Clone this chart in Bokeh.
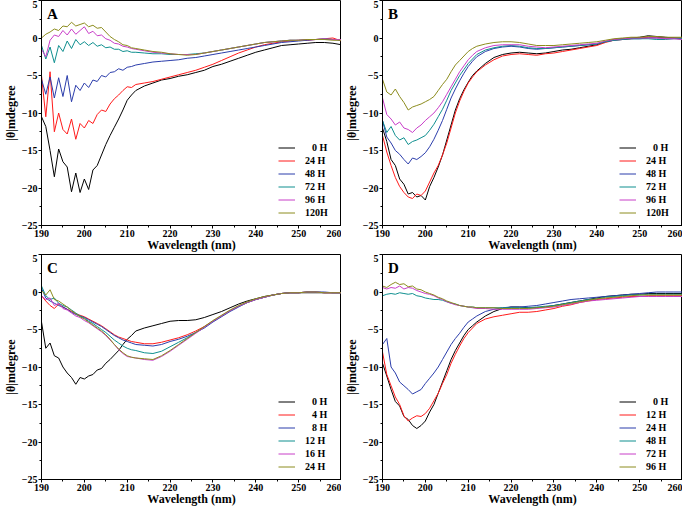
from bokeh.plotting import figure
from bokeh.layouts import gridplot
from bokeh.models import Range1d, SingleIntervalTicker, Label
from bokeh.embed import file_html
from bokeh.resources import INLINE

# wavelength grid (nm)
WL = list(range(190, 212)) + list(range(212, 262, 2))

COLORS = ["#000000", "#ff1a1a", "#2b3dab", "#0f8f8f", "#c83ec8", "#8c8c1e"]

# ---------------- Panel A ----------------
A_labels = ["\u2007\u20090 H", "24 H", "48 H", "72 H", "96 H", "120H"]
A0 = [-10.5, -11.8, -15.0, -18.5, -14.8, -16.5, -17.2, -20.5, -18.0, -20.6, -18.8,
      -20.2, -17.6, -17.0, -15.6, -14.2, -13.0, -11.9, -10.8, -9.6, -8.3, -7.6,
      -7.0, -6.4, -6.0, -5.6, -5.4, -5.1, -4.9, -4.6, -4.3, -3.8, -3.5, -3.1, -2.7,
      -2.3, -1.9, -1.6, -1.3, -1.0, -0.9, -0.8, -0.7, -0.6, -0.6, -0.7, -0.9]
A1 = [-5.0, -10.5, -4.5, -12.5, -10.0, -12.2, -12.8, -10.8, -13.5, -11.4, -12.0,
      -11.0, -11.4, -10.2, -9.6, -9.8, -8.8, -8.1, -7.6, -7.0, -6.5, -6.6,
      -6.2, -6.0, -5.8, -5.5, -5.2, -4.9, -4.6, -4.3, -3.9, -3.5, -3.0, -2.5, -2.0,
      -1.6, -1.2, -0.9, -0.7, -0.5, -0.4, -0.3, -0.3, -0.2, -0.1, 0.0, -0.4]
A2 = [-5.5, -7.5, -5.2, -8.0, -5.3, -7.8, -5.0, -8.5, -6.3, -7.0, -6.0,
      -6.6, -5.6, -5.8, -5.0, -5.2, -4.6, -4.5, -4.1, -4.3, -3.9, -3.8,
      -3.6, -3.4, -3.2, -3.1, -3.0, -2.9, -2.7, -2.6, -2.4, -2.2, -2.0, -1.8, -1.6,
      -1.4, -1.2, -1.0, -0.8, -0.6, -0.5, -0.4, -0.3, -0.2, -0.2, -0.2, -0.3]
A3 = [-1.0, -2.8, -1.2, -3.3, -1.0, -1.8, -0.4, -1.4, -0.2, -0.9, -0.5,
      -1.0, -0.6, -1.1, -0.9, -1.3, -1.2, -1.5, -1.5, -1.8, -1.7, -1.9,
      -1.9, -2.0, -2.1, -2.1, -2.2, -2.2, -2.2, -2.1, -2.0, -1.8, -1.6, -1.4, -1.2,
      -1.0, -0.8, -0.6, -0.5, -0.4, -0.3, -0.3, -0.2, -0.2, -0.1, -0.2, -0.2]
A4 = [-1.5, -2.5, -0.3, 0.4, 0.2, 1.0, 0.4, 1.2, 0.5, 1.0, 1.5,
      0.6, 0.9, 0.3, 0.4, -0.1, -0.3, -0.7, -0.8, -1.1, -1.2, -1.4,
      -1.5, -1.7, -1.9, -2.0, -2.1, -2.2, -2.2, -2.2, -2.0, -1.8, -1.6, -1.4, -1.2,
      -1.0, -0.8, -0.6, -0.5, -0.4, -0.3, -0.3, -0.2, -0.2, -0.1, -0.2, -0.2]
A5 = [0.0, 0.5, 0.8, 1.2, 1.0, 1.6, 1.5, 2.1, 1.6, 1.8, 2.0,
      1.5, 1.7, 1.3, 1.4, 0.8, 0.2, -0.2, -0.5, -0.9, -1.0, -1.3,
      -1.4, -1.6, -1.8, -1.9, -2.1, -2.2, -2.3, -2.2, -2.0, -1.8, -1.6, -1.4, -1.2,
      -1.0, -0.8, -0.6, -0.5, -0.4, -0.3, -0.3, -0.2, -0.2, -0.2, -0.3, -0.3]

# ---------------- Panel B ----------------
B_labels = ["\u2007\u20090 H", "24 H", "48 H", "72 H", "96 H", "120H"]
B0 = [-12.0, -13.8, -16.2, -17.0, -18.8, -19.5, -20.8, -20.6, -21.2, -21.0, -21.6,
      -19.8, -18.6, -17.2, -15.6, -13.6, -11.6, -9.6, -8.1, -6.9, -5.9, -5.0,
      -4.4, -3.4, -2.6, -2.2, -2.0, -1.9, -2.0, -2.1, -2.0, -1.8, -1.6, -1.5, -1.3,
      -1.1, -0.9, -0.5, -0.2, -0.1, 0.0, 0.1, 0.3, 0.2, 0.1, 0.0, 0.0]
B1 = [-13.0, -15.2, -17.0, -18.6, -19.8, -20.6, -21.2, -21.4, -20.8, -21.0, -20.4,
      -19.2, -18.0, -17.0, -15.6, -14.0, -12.0, -10.0, -8.4, -7.1, -6.0, -5.2,
      -4.5, -3.6, -2.9, -2.4, -2.2, -2.1, -2.2, -2.3, -2.1, -2.0, -1.8, -1.6, -1.4,
      -1.2, -1.0, -0.6, -0.3, -0.2, -0.1, 0.0, 0.1, 0.1, 0.0, 0.0, -0.2]
B2 = [-11.0, -13.2, -14.0, -15.0, -15.5, -16.2, -16.8, -16.0, -16.2, -15.8, -15.3,
      -14.5, -13.5, -12.3, -11.0, -9.5, -8.0, -6.8, -5.7, -4.7, -3.8, -3.1,
      -2.5, -1.8, -1.4, -1.2, -1.1, -1.2, -1.4, -1.5, -1.4, -1.3, -1.2, -1.1, -1.0,
      -0.9, -0.8, -0.5, -0.3, -0.2, -0.1, -0.1, 0.0, 0.0, 0.0, 0.0, -0.1]
B3 = [-11.0, -12.6, -11.8, -13.0, -13.6, -13.3, -14.2, -13.8, -13.6, -13.3, -13.0,
      -12.3, -11.5, -10.5, -9.5, -8.3, -7.0, -6.0, -5.0, -4.2, -3.4, -2.8,
      -2.2, -1.6, -1.3, -1.1, -1.0, -1.1, -1.3, -1.4, -1.4, -1.3, -1.2, -1.1, -1.0,
      -0.9, -0.8, -0.5, -0.3, -0.2, -0.1, -0.1, -0.1, -0.2, -0.2, -0.1, -0.1]
B4 = [-8.0, -10.2, -10.8, -11.6, -11.2, -12.0, -12.2, -12.6, -12.0, -11.6, -11.0,
      -10.5, -10.0, -9.3, -8.5, -7.5, -6.5, -5.5, -4.5, -3.7, -2.9, -2.3,
      -1.8, -1.3, -1.0, -0.9, -0.9, -0.9, -1.1, -1.2, -1.3, -1.2, -1.1, -1.0, -0.9,
      -0.8, -0.7, -0.4, -0.2, -0.1, 0.0, 0.0, 0.0, 0.0, -0.1, -0.1, -0.2]
B5 = [-5.5, -7.2, -7.6, -6.8, -7.8, -8.6, -9.6, -9.2, -9.0, -8.8, -8.5,
      -8.2, -7.8, -7.0, -6.2, -5.5, -4.5, -3.6, -3.0, -2.4, -1.8, -1.4,
      -1.1, -0.8, -0.6, -0.5, -0.5, -0.6, -0.8, -1.0, -1.0, -1.0, -0.9, -0.8, -0.7,
      -0.6, -0.5, -0.3, -0.1, 0.0, 0.1, 0.1, 0.2, 0.2, 0.1, 0.1, 0.1]

# ---------------- Panel C ----------------
C_labels = ["\u2007\u20090 H", "\u2007\u20094 H", "\u2007\u20098 H", "12 H", "16 H", "24 H"]
C0 = [-4.0, -7.5, -6.8, -8.5, -8.8, -10.0, -10.8, -11.4, -12.3, -11.4, -11.6,
      -11.2, -11.0, -10.4, -10.2, -9.5, -9.0, -8.4, -7.8, -7.0, -6.3, -5.8,
      -5.2, -4.8, -4.5, -4.2, -3.9, -3.8, -3.8, -3.7, -3.4, -3.0, -2.6, -2.1, -1.6,
      -1.2, -0.9, -0.6, -0.4, -0.2, -0.1, -0.1, -0.1, -0.1, -0.1, -0.1, -0.1]
C1 = [-0.5, -1.2, -1.8, -2.2, -1.6, -2.0, -2.3, -2.6, -2.9, -3.1, -3.3,
      -3.6, -3.9, -4.2, -4.5, -4.9, -5.3, -5.7, -6.0, -6.2, -6.4, -6.6,
      -6.7, -6.9, -6.9, -6.7, -6.4, -6.1, -5.7, -5.2, -4.6, -3.9, -3.2, -2.5, -1.9,
      -1.4, -1.0, -0.7, -0.4, -0.2, -0.1, -0.1, 0.0, 0.0, -0.1, -0.1, -0.1]
C2 = [0.5, -0.8, -1.2, -1.5, -1.8, -2.0, -2.3, -2.7, -3.0, -3.2, -3.4,
      -3.7, -4.0, -4.3, -4.6, -5.0, -5.4, -5.8, -6.1, -6.4, -6.6, -6.8,
      -7.0, -7.1, -7.2, -7.0, -6.6, -6.3, -5.9, -5.4, -4.8, -4.0, -3.3, -2.6, -2.0,
      -1.4, -1.0, -0.7, -0.4, -0.2, -0.1, -0.1, 0.0, 0.0, 0.0, -0.1, -0.1]
C3 = [0.8, -0.5, -1.0, -0.8, -1.5, -1.8, -2.0, -2.4, -2.8, -3.2, -3.5,
      -3.9, -4.2, -4.6, -5.0, -5.4, -5.9, -6.4, -6.8, -7.2, -7.5, -7.7,
      -7.8, -8.1, -8.2, -7.9, -7.3, -6.7, -6.1, -5.4, -4.7, -3.9, -3.2, -2.5, -1.9,
      -1.4, -1.0, -0.7, -0.4, -0.2, -0.1, -0.1, 0.0, 0.0, -0.1, -0.1, -0.1]
C4 = [-0.5, -1.0, -0.8, -1.8, -1.5, -2.2, -2.4, -2.8, -3.2, -3.4, -3.8,
      -4.1, -4.5, -4.9, -5.3, -5.8, -6.4, -7.0, -7.7, -8.2, -8.6, -8.7,
      -8.8, -9.0, -9.1, -8.6, -7.9, -7.1, -6.3, -5.5, -4.7, -3.9, -3.2, -2.5, -1.9,
      -1.4, -1.0, -0.7, -0.4, -0.2, -0.1, -0.1, 0.0, 0.0, -0.1, -0.1, -0.1]
C5 = [0.2, -0.4, 0.3, -1.0, -1.2, -1.6, -2.0, -2.5, -2.9, -3.3, -3.6,
      -4.0, -4.4, -4.8, -5.2, -5.7, -6.3, -7.0, -7.6, -8.1, -8.5, -8.7,
      -8.8, -8.9, -9.0, -8.5, -7.8, -7.0, -6.2, -5.4, -4.6, -3.8, -3.1, -2.4, -1.8,
      -1.3, -0.9, -0.6, -0.4, -0.2, -0.1, -0.1, 0.0, 0.0, -0.1, -0.1, -0.1]

# ---------------- Panel D ----------------
D_labels = ["\u2007\u20090 H", "12 H", "24 H", "48 H", "72 H", "96 H"]
D0 = [-9.5, -11.2, -13.0, -14.6, -15.2, -16.6, -17.0, -17.8, -18.2, -17.8, -17.2,
      -16.0, -15.0, -13.5, -12.0, -10.5, -9.0, -7.8, -6.8, -5.8, -5.0, -4.5,
      -4.0, -3.2, -2.6, -2.2, -2.0, -2.0, -2.1, -2.1, -2.0, -1.8, -1.6, -1.4, -1.2,
      -1.0, -0.8, -0.6, -0.5, -0.4, -0.3, -0.3, -0.2, -0.2, -0.2, -0.2, -0.2]
D1 = [-8.0, -11.0, -12.5, -14.0, -15.0, -16.5, -17.2, -16.8, -16.5, -16.6, -16.2,
      -15.5, -14.5, -13.5, -12.2, -11.0, -9.5, -8.3, -7.2, -6.2, -5.4, -4.8,
      -4.2, -3.6, -3.3, -3.1, -2.9, -2.7, -2.7, -2.6, -2.4, -2.2, -1.9, -1.7, -1.4,
      -1.2, -1.0, -0.9, -0.8, -0.7, -0.6, -0.6, -0.5, -0.5, -0.5, -0.5, -0.5]
D2 = [-7.0, -6.2, -10.0, -10.8, -12.0, -12.5, -13.0, -13.6, -13.3, -13.0, -12.2,
      -11.5, -10.8, -10.0, -9.0, -8.0, -7.0, -6.2, -5.5, -4.7, -4.0, -3.6,
      -3.2, -2.6, -2.3, -2.1, -2.0, -2.0, -1.9, -1.8, -1.6, -1.4, -1.2, -1.0, -0.9,
      -0.8, -0.7, -0.6, -0.5, -0.4, -0.3, -0.2, -0.1, 0.0, 0.0, 0.0, 0.0]
D3 = [-0.5, -0.3, -0.2, -0.3, -0.1, -0.2, -0.3, -0.2, -0.5, -0.6, -0.8,
      -0.9, -1.0, -1.0, -1.1, -1.3, -1.5, -1.6, -1.8, -1.9, -2.0, -2.0,
      -2.1, -2.1, -2.1, -2.1, -2.1, -2.1, -2.1, -2.0, -1.9, -1.8, -1.6, -1.4, -1.2,
      -1.0, -0.9, -0.7, -0.6, -0.5, -0.4, -0.4, -0.3, -0.3, -0.3, -0.3, -0.3]
D4 = [0.6, 0.4, 0.6, 0.5, 0.8, 0.4, 0.6, 0.5, 0.2, 0.0, -0.2,
      -0.3, -0.5, -0.8, -1.0, -1.3, -1.5, -1.7, -1.8, -1.9, -2.0, -2.1,
      -2.2, -2.2, -2.3, -2.3, -2.3, -2.3, -2.3, -2.2, -2.1, -2.0, -1.8, -1.6, -1.4,
      -1.2, -1.1, -1.0, -0.9, -0.8, -0.7, -0.6, -0.6, -0.6, -0.6, -0.6, -0.6]
D5 = [0.8, 0.6, 1.0, 1.3, 1.0, 1.1, 0.7, 0.8, 0.4, 0.3, 0.0,
      -0.2, -0.4, -0.7, -0.9, -1.2, -1.4, -1.6, -1.8, -1.9, -2.0, -2.0,
      -2.1, -2.1, -2.1, -2.2, -2.2, -2.2, -2.2, -2.1, -2.0, -1.9, -1.7, -1.5, -1.3,
      -1.1, -0.9, -0.8, -0.7, -0.6, -0.5, -0.4, -0.4, -0.4, -0.4, -0.4, -0.4]

X_TITLE = "Wavelength (nm)"
Y_TITLE = "|\u03b8|mdegree"
FONT = "Liberation Serif"


def make_panel(letter, series, labels):
    p = figure(frame_width=300, height=254, output_backend="svg",
               toolbar_location=None,
               x_range=Range1d(190, 260), y_range=Range1d(-25, 5),
               min_border_left=0, min_border_right=0, min_border_top=0,
               min_border_bottom=0)
    p.background_fill_color = "white"
    p.border_fill_color = "white"
    p.outline_line_color = "black"
    p.outline_line_width = 1
    p.outline_line_alpha = 1
    p.xgrid.visible = False
    p.ygrid.visible = False

    p.xaxis.ticker = SingleIntervalTicker(interval=10, num_minor_ticks=2)
    p.yaxis.ticker = SingleIntervalTicker(interval=5, num_minor_ticks=2)
    p.xaxis.axis_label = X_TITLE
    p.yaxis.axis_label = Y_TITLE
    for ax in (p.xaxis[0], p.yaxis[0]):
        ax.axis_line_color = "black"
        ax.major_tick_line_color = "black"
        ax.minor_tick_line_color = "black"
        ax.major_tick_out = 3
        ax.major_tick_in = 0
        ax.minor_tick_out = 2
        ax.minor_tick_in = 0
        ax.major_label_standoff = 1
        ax.axis_label_standoff = 1
        ax.major_label_text_font = FONT
        ax.major_label_text_font_style = "bold"
        ax.major_label_text_font_size = "10px"
        ax.major_label_text_color = "black"
        ax.axis_label_text_font = FONT
        ax.axis_label_text_font_style = "bold"
        ax.axis_label_text_font_size = "12px"
        ax.axis_label_text_color = "black"
    p.xaxis[0].axis_label_standoff = -2

    for ys, lab, col in zip(series, labels, COLORS):
        p.line(WL, ys, line_color=col, line_width=1, legend_label=lab)

    lg = p.legend[0]
    lg.location = (237, 6)
    lg.border_line_alpha = 0
    lg.background_fill_alpha = 0
    lg.padding = 0
    lg.margin = 0
    lg.spacing = 0
    lg.glyph_width = 17
    lg.glyph_height = 13
    lg.label_height = 13
    lg.label_width = 20
    lg.label_standoff = 10
    lg.label_text_font = FONT
    lg.label_text_font_style = "bold"
    lg.label_text_font_size = "10px"
    lg.label_text_color = "black"

    p.add_layout(Label(x=191.3, y=3.2, text=letter, text_font=FONT,
                       text_font_style="bold", text_font_size="15px",
                       text_baseline="middle", text_align="left",
                       text_color="black"))
    return p


pA = make_panel("A", [A0, A1, A2, A3, A4, A5], A_labels)
pB = make_panel("B", [B0, B1, B2, B3, B4, B5], B_labels)
pC = make_panel("C", [C0, C1, C2, C3, C4, C5], C_labels)
pD = make_panel("D", [D0, D1, D2, D3, D4, D5], D_labels)

grid = gridplot([[pA, pB], [pC, pD]], toolbar_location=None)

open("out.html", "w").write(file_html(grid, INLINE))
